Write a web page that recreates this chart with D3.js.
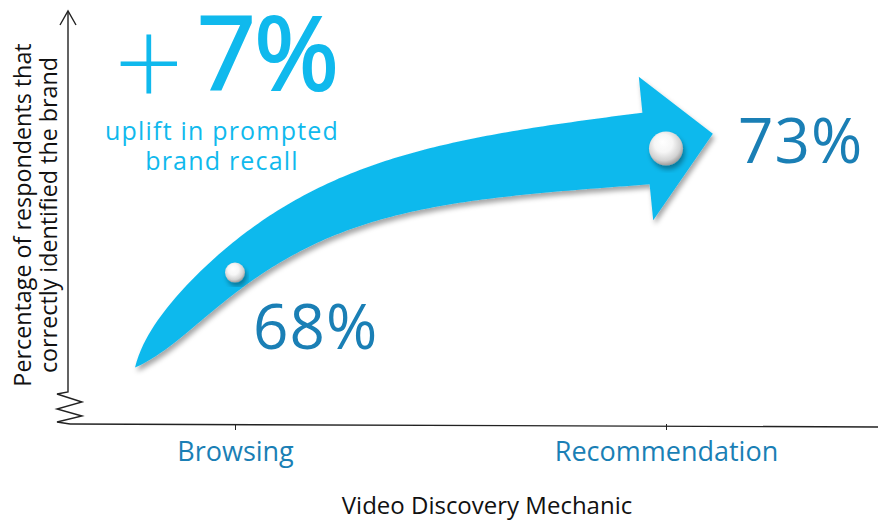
<!DOCTYPE html>
<html>
<head>
<meta charset="utf-8">
<script src="https://cdn.jsdelivr.net/npm/d3@7"></script>
<style>
  body { margin: 0; background: #fff; }
  svg { display: block; font-family: "Open Sans", "DejaVu Sans", sans-serif; }
</style>
</head>
<body>
<svg id="chart"></svg>
<script>
// data
const categories = ['Browsing', 'Recommendation'];
const values = [68, 73];
const valueLabels = ['68%', '73%'];
const yTitle = ['Percentage of respondents that', 'correctly identified the brand'];
const xTitle = 'Video Discovery Mechanic';
const upliftText = ['uplift in prompted', 'brand recall'];

const width = 878;
const height = 520;

const cyan = '#10b9ed';
const darkBlue = '#1a7fb5';

const svg = d3.select('#chart')
    .attr('width', width)
    .attr('height', height);

// Scales setup
const xscale = d3.scalePoint().domain(categories).range([235, 666]);
const yscale = d3.scaleLinear().domain([61.9, 78.5]).range([424, 12]);
const axisY = yscale.range()[0];

const defs = svg.append('defs');

const shadow = defs.append('filter')
    .attr('id', 'shadow')
    .attr('x', '-20%').attr('y', '-20%')
    .attr('width', '140%').attr('height', '140%');
shadow.append('feDropShadow')
    .attr('dx', 2).attr('dy', 4)
    .attr('stdDeviation', 2.5)
    .attr('flood-color', '#000')
    .attr('flood-opacity', 0.35);

const ballGrad = defs.append('radialGradient')
    .attr('id', 'ball')
    .attr('cx', '45%').attr('cy', '40%').attr('r', '60%')
    .attr('fx', '40%').attr('fy', '30%');
[['0%', '#ffffff'], ['45%', '#f6f6f6'], ['80%', '#d2d2d2'], ['100%', '#9c9c9c']]
    .forEach(([o, c]) => ballGrad.append('stop').attr('offset', o).attr('stop-color', c));

// ---- the curved arrow, anchored on the two data points ----
const p68 = [xscale(categories[0]), yscale(values[0])];
const p73 = [xscale(categories[1]), yscale(values[1])];

const P0 = [p68[0] - 100, p68[1] + 95];           // tail tip
const P3 = [p73[0] - 20, p73[1]];                 // head base centre
const tailDir = [0.64, -0.77];
const headDir = [0.995, -0.1];
const P1 = [P0[0] + 230 * tailDir[0], P0[1] + 230 * tailDir[1]];
const P2 = [P3[0] - 250 * headDir[0], P3[1] - 250 * headDir[1]];

function bez(t) {
    const u = 1 - t;
    return [
        u * u * u * P0[0] + 3 * u * u * t * P1[0] + 3 * u * t * t * P2[0] + t * t * t * P3[0],
        u * u * u * P0[1] + 3 * u * u * t * P1[1] + 3 * u * t * t * P2[1] + t * t * t * P3[1]
    ];
}
function bezD(t) {
    const u = 1 - t;
    return [
        3 * u * u * (P1[0] - P0[0]) + 6 * u * t * (P2[0] - P1[0]) + 3 * t * t * (P3[0] - P2[0]),
        3 * u * u * (P1[1] - P0[1]) + 6 * u * t * (P2[1] - P1[1]) + 3 * t * t * (P3[1] - P2[1])
    ];
}
const shaftHalf = 36;
// fast swell near the tail, then a slow linear widening
function halfWidth(t) {
    const a = 16.1;
    return a * (1 - Math.exp(-t / 0.05)) + (shaftHalf - a) * t;
}

const upper = [];
const lower = [];
d3.range(0, 121).forEach((i) => {
    const t = i / 120;
    const p = bez(t);
    const d = bezD(t);
    const len = Math.hypot(d[0], d[1]) || 1;
    const n = [d[1] / len, -d[0] / len];
    const w = halfWidth(t);
    upper.push([p[0] + w * n[0], p[1] + w * n[1]]);
    lower.push([p[0] - w * n[0], p[1] - w * n[1]]);
});
const dEnd = bezD(1);
const lEnd = Math.hypot(dEnd[0], dEnd[1]);
const hd = [dEnd[0] / lEnd, dEnd[1] / lEnd];
const hn = [hd[1], -hd[0]];
const head = [
    [P3[0] + 72 * hn[0], P3[1] + 72 * hn[1]],
    [P3[0] + 68 * hd[0] + 8 * hn[0], P3[1] + 68 * hd[1] + 8 * hn[1]],
    [P3[0] - 72 * hn[0], P3[1] - 72 * hn[1]]
];
const outline = upper.concat(head, lower.slice().reverse());

svg.append('path')
    .attr('d', d3.line()(outline) + 'Z')
    .attr('fill', cyan)
    .attr('filter', 'url(#shadow)');

// ---- axes ----
const axisColor = '#222';
// y axis with open arrowhead and break
const yTop = yscale.range()[1];
const yx = 68;
const brk = [[yx, 392], [57, 394], [82, 402], [57, 409], [82, 416], [57, 422], [yx + 2, axisY]];
svg.append('path')
    .attr('d', d3.line()([[yx, yTop], [yx, 392]].concat(brk.slice(1))))
    .attr('fill', 'none')
    .attr('stroke', axisColor)
    .attr('stroke-width', 1.4);
svg.append('path')
    .attr('d', d3.line()([[yx - 8, yTop + 13], [yx, yTop - 1], [yx + 8, yTop + 13]]))
    .attr('fill', 'none')
    .attr('stroke', axisColor)
    .attr('stroke-width', 1.4);

// x axis
const xaxis = d3.axisBottom(xscale).tickSize(6).tickPadding(5);
const g_xaxis = svg.append('g')
    .attr('transform', `translate(0,${axisY})`)
    .call(xaxis);
g_xaxis.select('.domain').remove();
g_xaxis.selectAll('.tick line').attr('stroke', axisColor).attr('stroke-width', 1);
g_xaxis.selectAll('.tick text')
    .attr('fill', darkBlue)
    .attr('font-size', 27)
    .attr('font-family', '"Open Sans", sans-serif')
    .attr('dy', '0.95em');
svg.append('line')
    .attr('x1', yx + 2).attr('y1', axisY)
    .attr('x2', width).attr('y2', axisY + 3)
    .attr('stroke', axisColor)
    .attr('stroke-width', 1.4);

svg.append('text')
    .attr('x', 487).attr('y', 514)
    .attr('text-anchor', 'middle')
    .attr('font-size', 24)
    .attr('fill', '#111')
    .text(xTitle);

svg.selectAll('.ytitle')
    .data(yTitle)
    .enter().append('text')
    .attr('class', 'ytitle')
    .attr('text-anchor', 'middle')
    .attr('font-size', 23.3)
    .attr('fill', '#111')
    .attr('transform', (d, i) => `translate(${31 + i * 26},215) rotate(-90)`)
    .text((d) => d);

// ---- balls and value labels ----
const ballRadius = [10, 17];
const labelOffset = [[18, 76], [72, 14]];
const pts = categories.map((c, i) => ({ c, v: values[i], label: valueLabels[i], i }));

svg.selectAll('circle.ball')
    .data(pts)
    .enter().append('circle')
    .attr('class', 'ball')
    .attr('cx', (d) => xscale(d.c))
    .attr('cy', (d) => yscale(d.v))
    .attr('r', (d) => ballRadius[d.i])
    .attr('fill', 'url(#ball)')
    .attr('filter', 'url(#shadow)');

svg.selectAll('text.val')
    .data(pts)
    .enter().append('text')
    .attr('class', 'val')
    .attr('x', (d) => xscale(d.c) + labelOffset[d.i][0])
    .attr('y', (d) => yscale(d.v) + labelOffset[d.i][1])
    .attr('font-size', 62)
    .attr('letter-spacing', 1)
    .attr('fill', darkBlue)
    .text((d) => d.label);

// ---- uplift callout (relative uplift, 73 vs 68) ----
const uplift = Math.round((values[1] / values[0] - 1) * 100);
svg.append('text')
    .attr('x', 114).attr('y', 104)
    .attr('fill', cyan)
    .attr('font-family', 'Lato, "Open Sans", sans-serif')
    .attr('font-weight', 300)
    .attr('font-size', 120)
    .text('+');
svg.append('text')
    .attr('x', 197).attr('y', 90)
    .attr('fill', cyan)
    .attr('stroke', cyan)
    .attr('stroke-width', 2)
    .attr('font-size', 103)
    .attr('letter-spacing', -2)
    .text(`${uplift}%`);

svg.selectAll('.upl')
    .data(upliftText)
    .enter().append('text')
    .attr('class', 'upl')
    .attr('x', 222)
    .attr('y', (d, i) => 140 + i * 30)
    .attr('text-anchor', 'middle')
    .attr('font-size', 25)
    .attr('letter-spacing', 1.2)
    .attr('fill', cyan)
    .text((d) => d);
</script>
</body>
</html>
